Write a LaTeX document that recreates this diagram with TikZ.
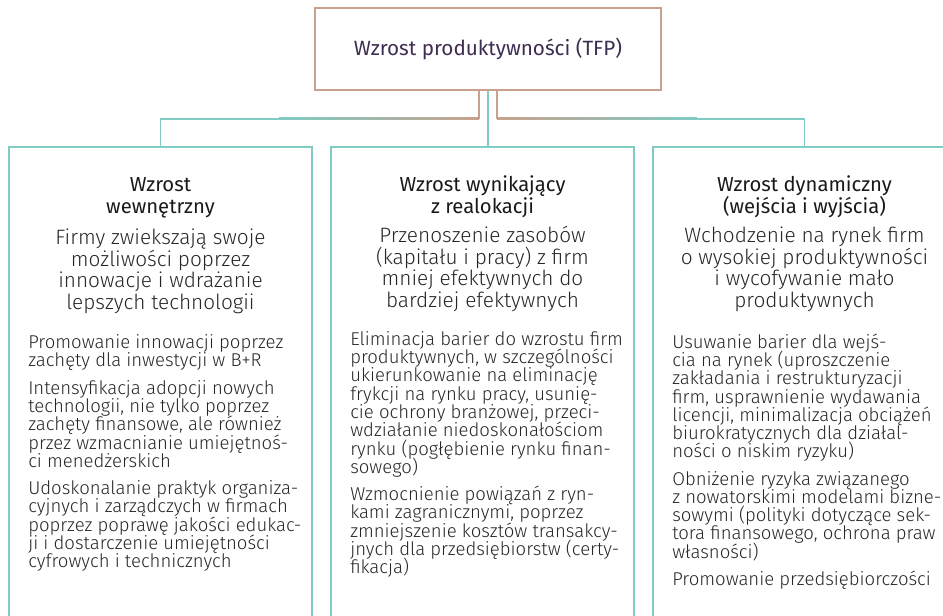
\documentclass[tikz,border=0pt]{standalone}
\usepackage{fontspec}
\setmainfont{Fira Sans}
\newfontfamily\lightfont{Fira Sans Light}
\usetikzlibrary{positioning}
\definecolor{tealline}{HTML}{7FCCC3}
\definecolor{roseline}{HTML}{C8A18E}
\definecolor{topink}{HTML}{3E2C50}
\definecolor{bodyink}{HTML}{262626}
\newcommand\fixlead{\lineskiplimit=-100pt\relax}

\begin{document}
\begin{tikzpicture}[x=0.75pt,y=-0.75pt,
    topbox/.style={draw=roseline,line width=1.1pt,minimum width=259.5pt,minimum height=61.5pt,
        text=topink,font=\fontsize{15.5pt}{18pt}\selectfont},
    colframe/.style={minimum width=227.25pt,minimum height=360pt,inner sep=0pt},
    coltitle/.style={anchor=base,align=center,inner sep=0pt,text=black!90,
        font=\fontsize{15.2pt}{16.1pt}\selectfont\fixlead},
    coldesc/.style={anchor=base,align=center,inner sep=0pt,text=bodyink,
        font=\lightfont\fontsize{15.6pt}{16.3pt}\selectfont\fixlead},
    colbody/.style={anchor=base west,align=left,inner sep=0pt,text=bodyink,
        font=\lightfont\fontsize{13.9pt}{13.7pt}\selectfont\fixlead},
    linkrose/.style={draw=roseline,line width=1.1pt},
    linkteal/.style={draw=tealline,line width=1.4pt}]
\useasboundingbox (0,0) rectangle (943,615);

\node[topbox] (tfp) at (488,49) {Wzrost produktywności (TFP)};

\node[colframe] (inner) at (160.5,387) {};
\node[colframe] (realloc) at (482.5,387) {};
\node[colframe] (dynamic) at (804.5,387) {};
\draw[linkteal] (inner.south west) |- (inner.north east) -- (inner.south east);
\draw[linkteal] (realloc.south west) |- (realloc.north east) -- (realloc.south east);
\draw[linkteal] (dynamic.south west) |- (dynamic.north east) -- (dynamic.south east);

\draw[linkrose] (tfp.south) ++(-9,0) -- ++(0,28) coordinate (lknee);
\draw[linkrose] (tfp.south) ++(9,0) -- ++(0,28) coordinate (rknee);
\draw[linkteal] (lknee) -| (inner.north);
\draw[linkteal] (rknee) -| (dynamic.north);
\shade[left color=tealline,right color=roseline] ([yshift=0.7pt]lknee) rectangle ++(-200,1.87);
\shade[left color=roseline,right color=tealline] ([yshift=0.7pt]rknee) rectangle ++(200,1.87);
\draw[linkteal] (tfp.south) -- (tfp.south |- realloc.north);

\node[coltitle] (innerT) at (160.5,213.3) {Wzrost\\wewnętrzny};
\node[coldesc] (innerD) at (160.5,309.5) {Firmy zwiekszają swoje\\możliwości poprzez\\innowacje i wdrażanie\\lepszych technologii};
\node[colbody] (innerB) at (28,567.6) {Promowanie innowacji poprzez\\zachęty dla inwestycji w B+R\\[6.75pt]
Intensyfikacja adopcji nowych\\technologii, nie tylko poprzez\\zachęty finansowe, ale również\\przez wzmacnianie umiejętnoś-\\ci menedżerskich\\[6.75pt]
Udoskonalanie praktyk organiza-\\cyjnych i zarządczych w firmach\\poprzez poprawę jakości edukac-\\ji i dostarczenie umiejętności\\cyfrowych i technicznych};

\node[coltitle] (reallocT) at (482.5,213.3) {Wzrost wynikający\\z realokacji};
\node[coldesc] (reallocD) at (482.5,307.5) {Przenoszenie zasobów\\(kapitału i pracy) z firm\\mniej efektywnych do\\bardziej efektywnych};
\node[colbody] (reallocB) at (350,573.6) {Eliminacja barier do wzrostu firm\\produktywnych, w szczególności\\ukierunkowanie na eliminację\\frykcji na rynku pracy, usunię-\\cie ochrony branżowej, przeci-\\wdziałanie niedoskonałościom\\rynku (pogłębienie rynku finan-\\sowego)\\[6.75pt]
Wzmocnienie powiązań z ryn-\\kami zagranicznymi, poprzez\\zmniejszenie kosztów transakcy-\\jnych dla przedsiębiorstw (certy-\\fikacja)};

\node[coltitle] (dynamicT) at (804.5,213.3) {Wzrost dynamiczny\\(wejścia i wyjścia)};
\node[coldesc] (dynamicD) at (804.5,307.5) {Wchodzenie na rynek firm\\o wysokiej produktywności\\i wycofywanie mało\\produktywnych};
\node[colbody] (dynamicB) at (672,585.5) {Usuwanie barier dla wejś-\\cia na rynek (uproszczenie\\zakładania i restrukturyzacji\\firm, usprawnienie wydawania\\licencji, minimalizacja obciążeń\\biurokratycznych dla działal-\\ności o niskim ryzyku)\\[6.75pt]
Obniżenie ryzyka związanego\\z nowatorskimi modelami bizne-\\sowymi (polityki dotyczące sek-\\tora finansowego, ochrona praw\\własności)\\[6.75pt]
Promowanie przedsiębiorczości};
\end{tikzpicture}
\end{document}
